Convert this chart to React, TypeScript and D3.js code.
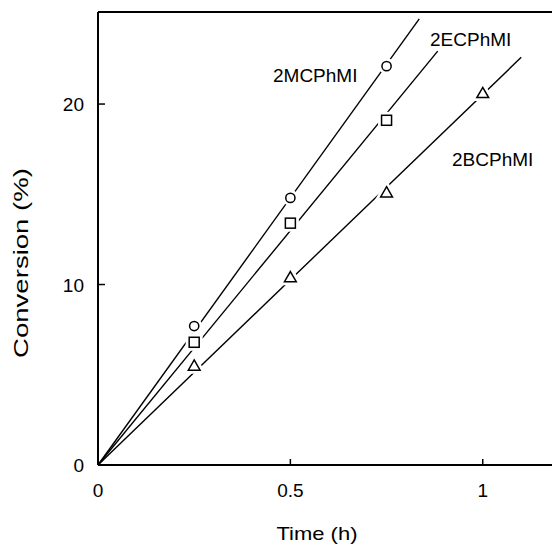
import React from 'react'
import * as d3 from 'd3'

// conversion vs time, three monomers
const times = [0.25, 0.5, 0.75, 1.0]
const mcConv = [7.7, 14.8, 22.1]
const ecConv = [6.8, 13.4, 19.1]
const bcConv = [5.5, 10.4, 15.1, 20.6]
const seriesNames = ['2MCPhMI', '2ECPhMI', '2BCPhMI']
const lineEnds = [0.835, 0.883, 1.1]
const xTicks = [0, 0.5, 1]
const yTicks = [0, 10, 20]

const W = 552
const H = 544
const m = { left: 98, top: 12, bottom: 79 }

const font = 'Liberation Sans, Arial, Helvetica, sans-serif'

function fitSlope(ys: number[]) {
  const sxy = d3.sum(ys, (y, i) => y * times[i])
  const sxx = d3.sum(ys, (y, i) => times[i] * times[i])
  return sxy / sxx
}

export default function App() {
  const x = d3.scaleLinear().domain([0, 1.18]).range([m.left, W])
  const y = d3.scaleLinear().domain([0, 25.1]).range([H - m.bottom, m.top])

  const series = [mcConv, ecConv, bcConv]
  const shapes = ['circle', 'square', 'triangle']
  const line = d3.line<[number, number]>().x(d => x(d[0])).y(d => y(d[1]))

  const marker = (shape: string, cx: number, cy: number, halo: boolean, key: string) => {
    const stroke = halo ? '#fff' : '#000'
    const sw = halo ? 7 : 1.5
    if (shape === 'circle')
      return <circle key={key} cx={cx} cy={cy} r={4.6} fill="#fff" stroke={stroke} strokeWidth={sw} />
    if (shape === 'square')
      return <rect key={key} x={cx - 5} y={cy - 5} width={10} height={10} fill="#fff" stroke={stroke} strokeWidth={sw} />
    const tri = d3.symbol(d3.symbolTriangle, 60)()
    return <path key={key} d={tri ?? ''} transform={`translate(${cx},${cy + 1})`} fill="#fff" stroke={stroke} strokeWidth={sw} />
  }

  return (
    <svg width={W} height={H} style={{ position: 'absolute', left: 0, top: 0 }} fontFamily={font}>
      <rect width={W} height={H} fill="#fff" />
      {/* fitted lines through origin */}
      {series.map((ys, i) => {
        const k = fitSlope(ys)
        return <path key={'l' + i} d={line([[0, 0], [lineEnds[i], k * lineEnds[i]]]) ?? ''} fill="none" stroke="#000" strokeWidth={1.4} />
      })}
      {series.map((ys, i) => ys.map((v, j) => marker(shapes[i], x(times[j]), y(v), true, `h${i}-${j}`)))}
      {series.map((ys, i) => ys.map((v, j) => marker(shapes[i], x(times[j]), y(v), false, `m${i}-${j}`)))}

      {/* frame */}
      <line x1={x(0)} x2={W} y1={y(0)} y2={y(0)} stroke="#000" strokeWidth={2.2} />
      <line x1={x(0)} x2={W} y1={m.top} y2={m.top} stroke="#000" strokeWidth={2} />
      <line x1={x(0)} x2={x(0)} y1={m.top} y2={y(0)} stroke="#000" strokeWidth={2} />

      {xTicks.map(t => (
        <g key={'x' + t}>
          {t > 0 && <line x1={x(t)} x2={x(t)} y1={y(0)} y2={y(0) - 6} stroke="#000" strokeWidth={1.5} />}
          <text x={x(t)} y={y(0) + 32} textAnchor="middle" fontSize={19}>{t}</text>
        </g>
      ))}
      {yTicks.map(t => (
        <g key={'y' + t}>
          {t > 0 && <line x1={x(0)} x2={x(0) + 7} y1={y(t)} y2={y(t)} stroke="#000" strokeWidth={1.5} />}
          <text x={x(0) - 14} y={y(t) + 7} textAnchor="end" fontSize={19}>{t}</text>
        </g>
      ))}

      <text x={317} y={540} textAnchor="middle" fontSize={19} textLength={81} lengthAdjust="spacingAndGlyphs">Time (h)</text>
      <text transform="translate(28,263) rotate(-90)" textAnchor="middle" fontSize={20} textLength={190} lengthAdjust="spacingAndGlyphs">Conversion (%)</text>

      <text x={273} y={82} fontSize={19}>{seriesNames[0]}</text>
      <text x={430} y={46} fontSize={19}>{seriesNames[1]}</text>
      <text x={452} y={166} fontSize={19}>{seriesNames[2]}</text>
    </svg>
  )
}
